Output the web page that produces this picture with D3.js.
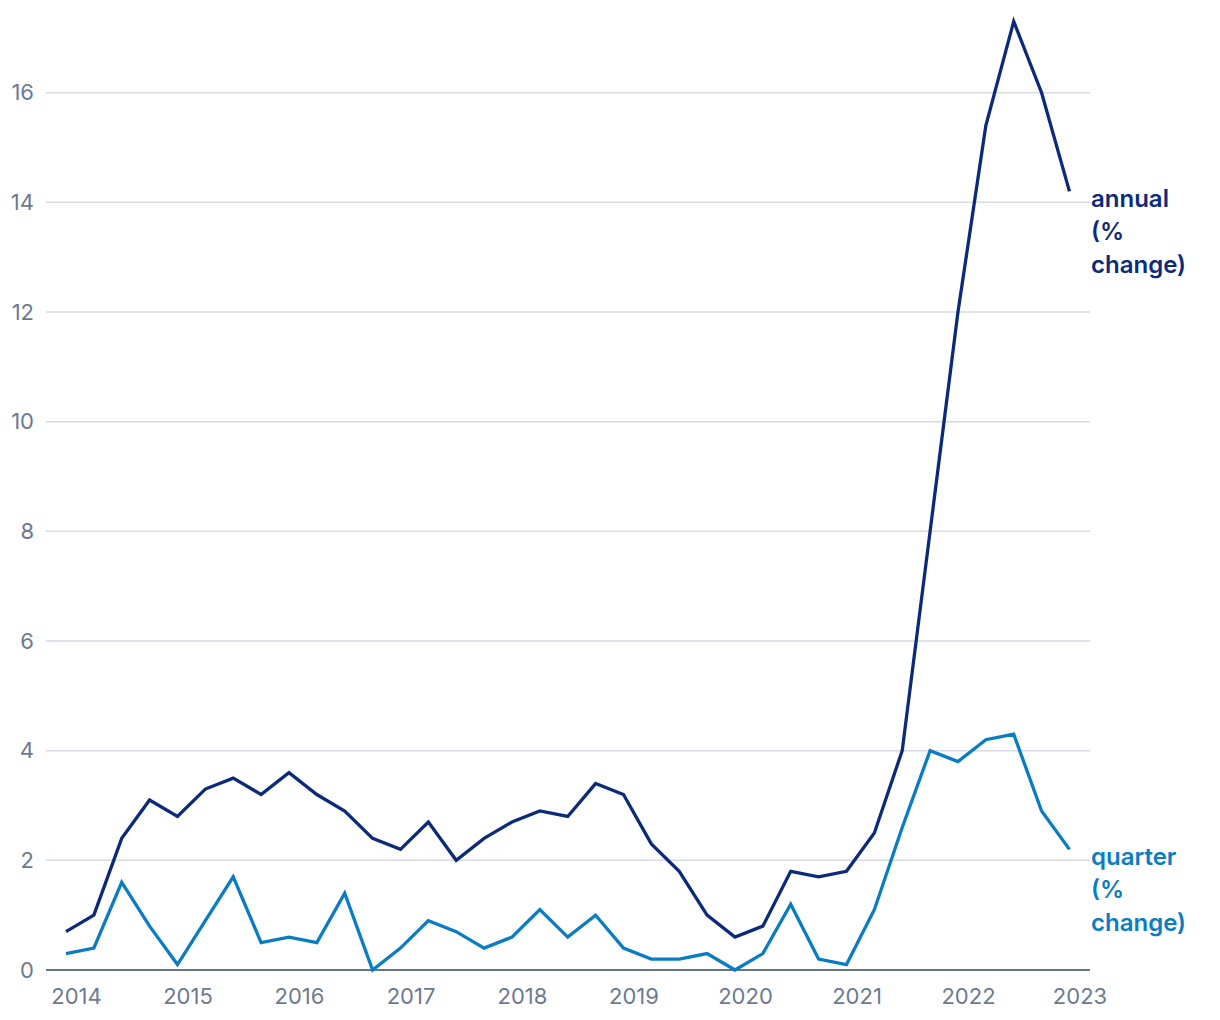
<!DOCTYPE html>
<html>
<head>
<meta charset="utf-8">
<script src="https://cdn.jsdelivr.net/npm/d3@7"></script>
<style>
  html, body { margin: 0; padding: 0; background: #ffffff; }
  svg { display: block; font-family: "Inter", "Lato", sans-serif; }
</style>
</head>
<body>
<svg id="chart" width="1220" height="1020"></svg>
<script>
// ---- data ----
const quarters = [
  "2014 Q1","2014 Q2","2014 Q3","2014 Q4",
  "2015 Q1","2015 Q2","2015 Q3","2015 Q4",
  "2016 Q1","2016 Q2","2016 Q3","2016 Q4",
  "2017 Q1","2017 Q2","2017 Q3","2017 Q4",
  "2018 Q1","2018 Q2","2018 Q3","2018 Q4",
  "2019 Q1","2019 Q2","2019 Q3","2019 Q4",
  "2020 Q1","2020 Q2","2020 Q3","2020 Q4",
  "2021 Q1","2021 Q2","2021 Q3","2021 Q4",
  "2022 Q1","2022 Q2","2022 Q3","2022 Q4",
  "2023 Q1"
];
const annualValues = [
  0.7, 1.0, 2.4, 3.1,
  2.8, 3.3, 3.5, 3.2,
  3.6, 3.2, 2.9, 2.4,
  2.2, 2.7, 2.0, 2.4,
  2.7, 2.9, 2.8, 3.4,
  3.2, 2.3, 1.8, 1.0,
  0.6, 0.8, 1.8, 1.7,
  1.8, 2.5, 4.0, 8.0,
  12.0, 15.4, 17.3, 16.0,
  14.2
];
const quarterValues = [
  0.3, 0.4, 1.6, 0.8,
  0.1, 0.9, 1.7, 0.5,
  0.6, 0.5, 1.4, 0.0,
  0.4, 0.9, 0.7, 0.4,
  0.6, 1.1, 0.6, 1.0,
  0.4, 0.2, 0.2, 0.3,
  0.0, 0.3, 1.2, 0.2,
  0.1, 1.1, 2.6, 4.0,
  3.8, 4.2, 4.3, 2.9,
  2.2
];
const yearTicks = [2014, 2015, 2016, 2017, 2018, 2019, 2020, 2021, 2022, 2023];
const yTicks = [0, 2, 4, 6, 8, 10, 12, 14, 16];
const seriesLabels = [
  { name: "annual", lines: ["annual", "(%", "change)"], values: annualValues, color: "#0b2a7c" },
  { name: "quarter", lines: ["quarter", "(%", "change)"], values: quarterValues, color: "#0a7cc5" }
];

// ---- layout ----
const svg = d3.select("#chart");
const plotLeft = 46, plotRight = 1090;
const x = d3.scaleLinear().domain([2014, 2023]).range([76, 1079.5]);
const y = d3.scaleLinear().domain([0, 16]).range([970, 92.7]);

// quarter -> fractional year position (points sit slightly before year label)
const qPos = q => {
  const [yr, qq] = q.split(" Q");
  return +yr + (+qq - 1) / 4 - 0.09;
};

// grid lines
svg.append("g")
  .selectAll("line")
  .data(yTicks.filter(d => d !== 0))
  .join("line")
  .attr("x1", plotLeft).attr("x2", plotRight)
  .attr("y1", d => y(d)).attr("y2", d => y(d))
  .attr("stroke", "#d5dae5").attr("stroke-width", 1.5);

// y axis labels
const yAxis = d3.axisLeft(y).tickValues(yTicks).tickSize(0).tickPadding(0).tickFormat(d3.format("d"));
const yg = svg.append("g").attr("transform", `translate(34,0)`).call(yAxis);
yg.select(".domain").remove();
yg.selectAll("text")
  .attr("fill", "#6b7a92")
  .style("font-size", "22px")
  .style("font-family", "Inter, Lato, sans-serif");

// baseline
svg.append("line")
  .attr("x1", plotLeft).attr("x2", plotRight)
  .attr("y1", y(0)).attr("y2", y(0))
  .attr("stroke", "#66758f").attr("stroke-width", 2);

// x axis labels
const xAxis = d3.axisBottom(x).tickValues(yearTicks).tickSize(0).tickPadding(18).tickFormat(d3.format("d"));
const xg = svg.append("g").attr("transform", `translate(0,${y(0)})`).call(xAxis);
xg.select(".domain").remove();
xg.selectAll("text")
  .attr("fill", "#6b7a92")
  .style("font-size", "22px")
  .style("font-family", "Inter, Lato, sans-serif");

// lines
const line = d3.line()
  .x((d, i) => x(qPos(quarters[i])))
  .y(d => y(d));

seriesLabels.forEach(s => {
  svg.append("path")
    .datum(s.values)
    .attr("d", line)
    .attr("fill", "none")
    .attr("stroke", s.color)
    .attr("stroke-width", 3.3)
    .attr("stroke-linejoin", "miter");

  const last = s.values[s.values.length - 1];
  const t = svg.append("text")
    .attr("x", plotRight + 1)
    .attr("y", y(last) + 16)
    .attr("fill", s.color)
    .style("font-size", "24px")
    .style("font-weight", 600)
    .style("font-family", "Inter, Lato, sans-serif");
  s.lines.forEach((ln, i) => {
    t.append("tspan")
      .attr("x", plotRight + 1)
      .attr("dy", i === 0 ? 0 : 33)
      .text(ln);
  });
});
</script>
</body>
</html>
